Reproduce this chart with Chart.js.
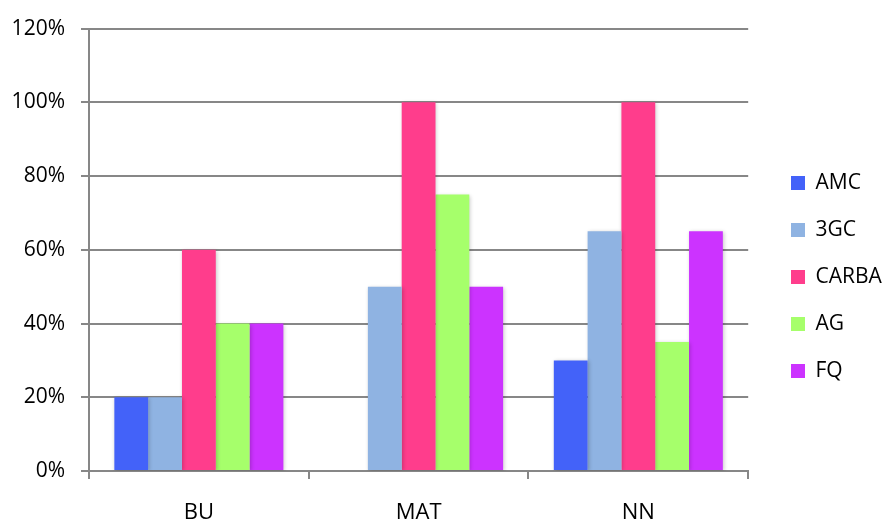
<!DOCTYPE html>
<html>
<head>
<meta charset="utf-8">
<script src="https://cdn.jsdelivr.net/npm/chart.js@4/dist/chart.umd.min.js"></script>
<style>
  html, body { margin: 0; padding: 0; background: #ffffff; }
  #wrap { width: 885px; height: 522px; }
</style>
</head>
<body>
<div id="wrap"><canvas id="c" width="885" height="522"></canvas></div>
<script>
// Categories and series (percent values)
const categories = ['BU', 'MAT', 'NN'];
const seriesNames = ['AMC', '3GC', 'CARBA', 'AG', 'FQ'];
const amc   = [20, 0, 30];
const g3c   = [20, 50, 65];
const carba = [60, 100, 100];
const ag    = [40, 75, 35];
const fq    = [40, 50, 65];
const yTicks = [0, 20, 40, 60, 80, 100, 120];

const seriesValues = [amc, g3c, carba, ag, fq];
const seriesColors = ['#4362f9', '#8fb3e2', '#ff3d8c', '#a6ff6b', '#cc33ff'];

const FONT = "'Open Sans', 'Liberation Sans', sans-serif";
const GRID = '#878787';
const LEGEND_PAD = 26;

// Soft drop shadow behind the bars
const barShadow = {
  id: 'barShadow',
  beforeDatasetsDraw(chart) {
    const ctx = chart.ctx;
    ctx.save();
    ctx.shadowColor = 'rgba(0,0,0,0.22)';
    ctx.shadowBlur = 4;
    ctx.shadowOffsetX = 1;
    ctx.shadowOffsetY = 1;
  },
  afterDatasetsDraw(chart) {
    chart.ctx.restore();
  }
};

// Place the legend column beside the plot
const legendPlacement = {
  id: 'legendPlacement',
  afterLayout(chart) {
    const lg = chart.legend;
    const w = lg.right - lg.left;
    lg.left = 791 - LEGEND_PAD;
    lg.right = lg.left + w;
    lg.top += 9;
    lg.bottom += 9;
  }
};

new Chart(document.getElementById('c'), {
  type: 'bar',
  data: {
    labels: categories,
    datasets: seriesNames.map((name, i) => ({
      label: name,
      data: seriesValues[i],
      backgroundColor: seriesColors[i],
      borderWidth: 0,
      categoryPercentage: 5 / 6.5,
      barPercentage: 1.0
    }))
  },
  options: {
    responsive: false,
    animation: false,
    layout: { padding: { left: 0, right: 10, top: 14, bottom: 0 } },
    plugins: {
      tooltip: { enabled: false },
      legend: {
        position: 'right',
        align: 'center',
        labels: {
          font: { family: FONT, size: 21 },
          color: '#000000',
          boxWidth: 14,
          boxHeight: 14,
          padding: LEGEND_PAD
        }
      }
    },
    scales: {
      x: {
        afterFit(scale) { scale.height = 51; },
        grid: {
          display: true,
          drawOnChartArea: false,
          drawTicks: true,
          tickLength: 8,
          offset: true,
          color: GRID,
          lineWidth: 2
        },
        border: { display: true, color: GRID, width: 2 },
        ticks: {
          font: { family: FONT, size: 22 },
          color: '#000000',
          padding: 21
        }
      },
      y: {
        min: 0,
        max: 120,
        afterFit(scale) { scale.width = 89; },
        afterBuildTicks(axis) { axis.ticks = yTicks.map(v => ({ value: v })); },
        grid: {
          color: GRID,
          lineWidth: 2,
          tickLength: 8,
          drawTicks: true
        },
        border: { display: true, color: GRID, width: 2 },
        ticks: {
          font: { family: FONT, size: 21 },
          color: '#000000',
          padding: 16,
          callback: v => v + '%'
        }
      }
    }
  },
  plugins: [barShadow, legendPlacement]
});
</script>
</body>
</html>
